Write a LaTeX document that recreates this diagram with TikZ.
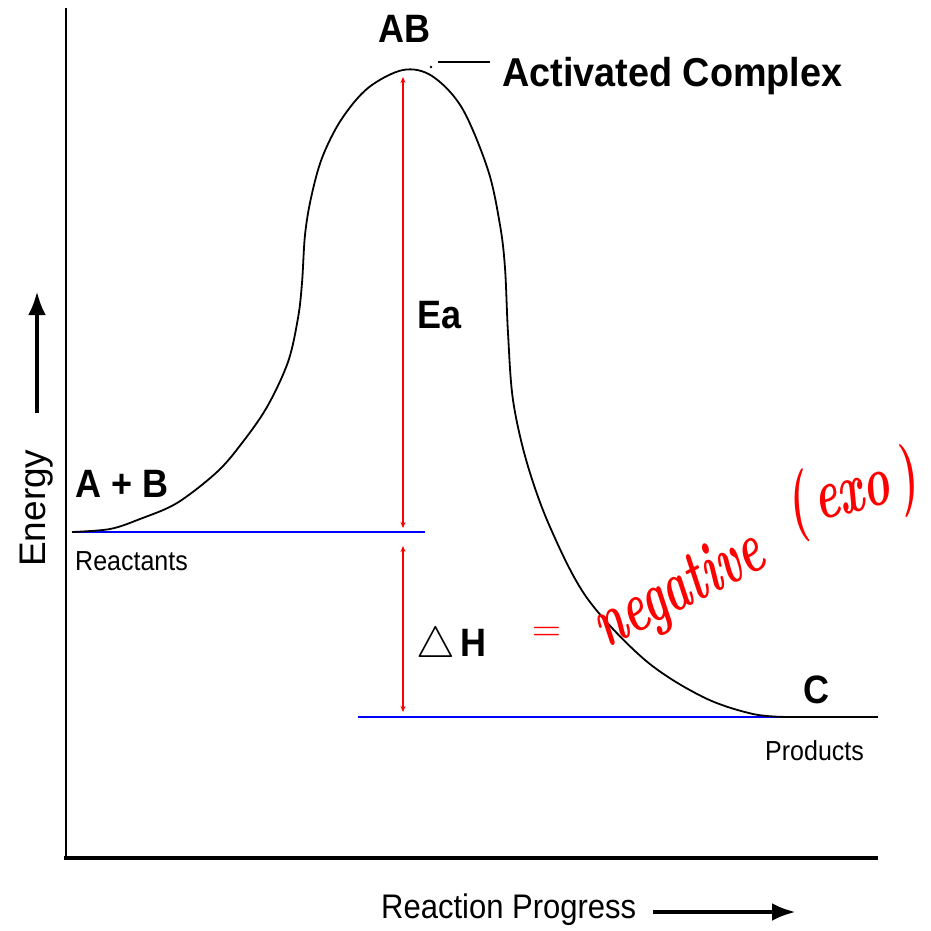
\documentclass[tikz,border=0pt]{standalone}
\usepackage{fontspec}
\setsansfont{Liberation Sans}
\usetikzlibrary{arrows.meta}
\definecolor{levelblue}{RGB}{0,0,255}
\definecolor{inkred}{RGB}{255,0,0}
\newcommand{\tallbox}[1]{\scalebox{1}[1.1]{#1}}
\newcommand{\inkbox}[1]{\scalebox{0.9}[1.45]{#1}}

\begin{document}
\begin{tikzpicture}[
  x=1pt, y=-1pt,
  lbl/.style   = {inner sep=0pt, anchor=base west,
                  font=\sffamily\bfseries\fontsize{36}{40}\selectfont},
  tag/.style   = {inner sep=0pt, anchor=base west,
                  font=\sffamily\fontsize{25}{28}\selectfont},
  level/.style = {line width=2pt, draw=levelblue},
  gap/.style   = {line width=1.6pt, draw=inkred,
                  {Stealth[length=6pt,width=5pt]}-{Stealth[length=6pt,width=5pt]}},
  ink/.style   = {inner sep=0pt, text=inkred,
                  font=\bfseries\itshape\fontsize{50}{50}\selectfont},
  axarr/.style = {line width=4.5pt, -{Latex[length=24pt,width=18pt]}},
]
\useasboundingbox (0,0) rectangle (930,931);

% -- axes ---------------------------------------------------------------
\coordinate (ytop)   at (66,8);
\coordinate (origin) at (66,860);
\coordinate (xend)   at (878,858);
\draw[line width=2pt] (ytop) -- (origin);
\draw[line width=4pt] (64,858) -- (xend);

% -- energy levels ------------------------------------------------------
\coordinate (rstart) at (72,532);
\coordinate (rend)   at (425,532);
\coordinate (pstart) at (358,717);
\coordinate (pmid)   at (787,717);
\coordinate (pend)   at (878,717);
\draw[level] (rstart) -- (rend);
\draw[level] (pstart) -- (pmid);
\draw[line width=2pt] (pmid) -- (pend);

% -- reaction curve -----------------------------------------------------
\draw[line width=1.8pt] plot[smooth, tension=0.55] coordinates {
  (72,532) (110,529) (140,519) (177,503) (217,472) (242,443) (267,407)
  (288,362) (298,318) (302,283) (305,235) (311,198) (322,158) (341,120)
  (368,88) (403,70) (432,76) (462,108) (488,170) (500,225) (505,268)
  (508,333) (513,400) (527,463) (550,527) (587,598) (645,660) (703,697)
  (753,714) (790,717)};

% -- labels -------------------------------------------------------------
\node[lbl] (ab)  at (378,43)  {\tallbox{AB}};
\node[lbl] (ac)  at (502,87)  {\scalebox{1.05}[1.12]{Activated Complex}};
\node[lbl] (ea)  at (417,328) {\tallbox{Ea}};
\node[lbl] (apb) at (75,497)  {\tallbox{A + B}};
\node[lbl] (c)   at (803,703) {\tallbox{C}};
\node[lbl] (dh)  at (416,656)
  {\raisebox{-1pt}{\mdseries\scalebox{1.75}{$\triangle$}}\,\tallbox{H}};
\node[tag] (reac) at (75,570)  {\tallbox{Reactants}};
\node[tag] (prod) at (765,760) {\tallbox{Products}};
\node[tag, font=\sffamily\fontsize{31}{34}\selectfont] (rp) at (381,918)
  {\tallbox{Reaction Progress}};
\node[tag, font=\sffamily\fontsize{37}{40}\selectfont, rotate=90] (en)
  at (45,567) {Energy};

% -- leader to activated complex ---------------------------------------
\coordinate (lead) at (438,62);
\draw[line width=1.6pt] (lead) -- (490,62);
\fill (431,67) circle (1.3pt);

% -- Ea and Delta H -----------------------------------------------------
\coordinate (eatop) at (403,77);
\coordinate (eabot) at (403,528);
\coordinate (dhtop) at (403,546);
\coordinate (dhbot) at (403,712);
\draw[gap] (eatop) -- (eabot);
\draw[gap] (dhtop) -- (dhbot);

% -- axis arrows --------------------------------------------------------
\coordinate (entail) at (37,413);
\coordinate (enhead) at (37,291);
\coordinate (rptail) at (653,912);
\coordinate (rphead) at (796,912);
\draw[axarr] (entail) -- (enhead);
\draw[axarr] (rptail) -- (rphead);

% -- handwritten note ---------------------------------------------------
\node[ink, font=\mdseries\fontsize{40}{40}\selectfont] (eq) at (547,634) {=};
\node[ink, rotate=27] (neg) at (680,592) {\inkbox{negative}};
\node[ink, rotate=14] (exo) at (852,494) {\inkbox{(\,exo\,)}};

\end{tikzpicture}
\end{document}
